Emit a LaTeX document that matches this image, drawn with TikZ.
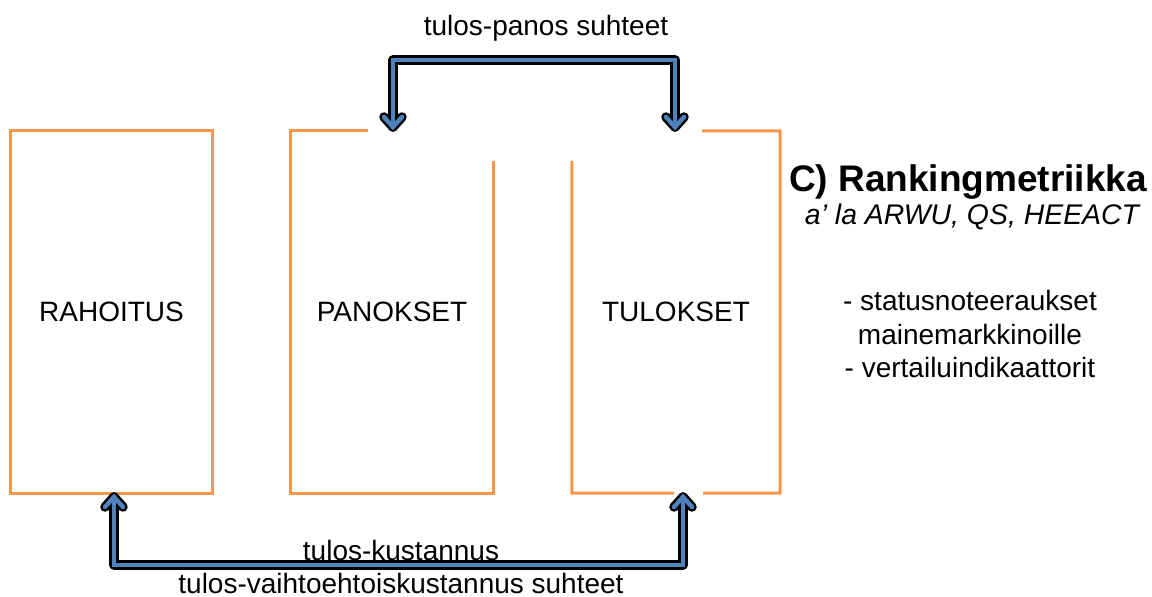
\documentclass[tikz,border=0pt]{standalone}
\usepackage{fontspec}
\setmainfont{Liberation Sans}
\definecolor{boxorange}{HTML}{F79646}
\definecolor{arrblue}{HTML}{4F81BD}
\tikzset{
  boxnode/.style={draw=none, inner sep=0pt, font=\fontsize{28}{33.5}\selectfont},
  boxline/.style={draw=boxorange, line width=3pt},
  txt/.style={inner sep=0pt, font=\fontsize{28}{33.5}\selectfont},
  arrout/.style={draw=black, line width=9.5pt, line cap=round, line join=round, shift={(1pt,1.5pt)}},
  arrin/.style={draw=arrblue, line width=4.5pt, line cap=round, line join=miter},
}
\begin{document}
\begin{tikzpicture}[x=1pt,y=-1pt]
\useasboundingbox (0,0) rectangle (1152,597);
% boxes
\node[boxnode, minimum width=201pt, minimum height=362pt] (rah) at (111.5,312) {RAHOITUS};
\node[boxnode, minimum width=202pt, minimum height=362pt] (pan) at (392,312) {PANOKSET};
\node[boxnode, minimum width=208pt, minimum height=362pt] (tul) at (676,312) {TULOKSET};
\draw[boxline] (rah.north west) rectangle (rah.south east);
\draw[boxline] ([xshift=77pt]pan.north west) -- (pan.north west) -- (pan.south west) -- (pan.south east) -- ([yshift=-30pt]pan.north east);
\draw[boxline] ([xshift=-78pt]tul.north east) -- (tul.north east) -- (tul.south east) -- (703,493);
\draw[boxline] (674,493) -- (tul.south west) -- ([yshift=-30pt]tul.north west);
% arrow end points
\coordinate (ta) at (393,127);
\coordinate (tb) at (675,127);
\coordinate (ba) at (114,497);
\coordinate (bb) at (683,497);
% arrows (shadowed outline, then blue)
\foreach \lay in {arrout,arrin}{
  \draw[\lay] (ta) -- ++(0,-67) -| (tb);
  \draw[\lay] ([shift={(-9,-10)}]ta) -- (ta) -- ([shift={(9,-10)}]ta);
  \draw[\lay] ([shift={(-9,-10)}]tb) -- (tb) -- ([shift={(9,-10)}]tb);
  \draw[\lay] (ba) -- ++(0,68) -| (bb);
  \draw[\lay] ([shift={(-9,10)}]ba) -- (ba) -- ([shift={(9,10)}]ba);
  \draw[\lay] ([shift={(-9,10)}]bb) -- (bb) -- ([shift={(9,10)}]bb);
}
% labels
\node[txt] (tp) at (546,28) {tulos-panos suhteet};
\node[txt] (tk) at (401,550) {tulos-kustannus};
\node[txt] (tv) at (401,583) {tulos-vaihtoehtoiskustannus suhteet};
\node[inner sep=0pt, font=\fontsize{37}{44}\selectfont\bfseries] (head) at (968,182) {C) Rankingmetriikka};
\node[txt, font=\fontsize{28.4}{33.5}\selectfont\itshape] (sub) at (972,217) {a’ la ARWU, QS, HEEACT};
\node[txt, align=center] (list) at (970,334) {- statusnoteeraukset\\ mainemarkkinoille\\- vertailuindikaattorit};
\end{tikzpicture}
\end{document}
